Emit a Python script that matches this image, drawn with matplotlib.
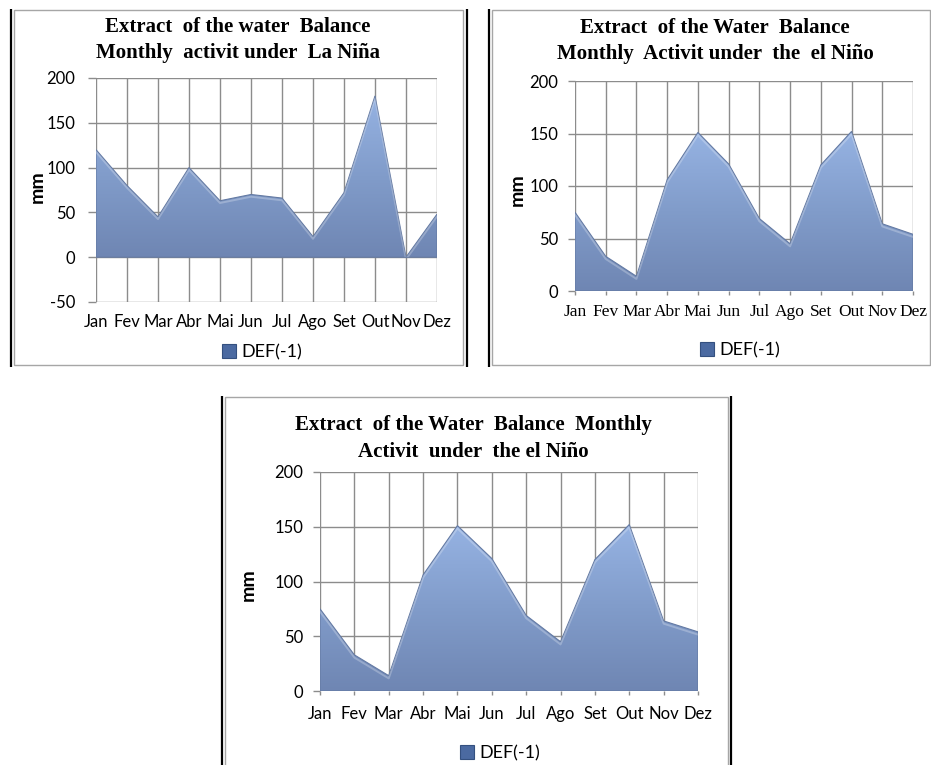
import matplotlib
matplotlib.use("Agg")
import matplotlib.pyplot as plt
import numpy as np
from matplotlib.patches import Polygon, Patch, Rectangle
from matplotlib.colors import LinearSegmentedColormap

# monthly DEF(-1) values, mm
months = ['Jan', 'Fev', 'Mar', 'Abr', 'Mai', 'Jun', 'Jul', 'Ago', 'Set', 'Out', 'Nov', 'Dez']
la_nina = [120, 80, 45, 100, 63, 70, 66, 23, 72, 180, 0, 48]
el_nino = [75, 33, 14, 106, 151, 121, 69, 45, 120, 152, 64, 54]
series_name = 'DEF(-1)'

W, H = 931, 765
SANS = ['Lato', 'DejaVu Sans']
SERIF = ['Liberation Serif', 'DejaVu Serif']
GRID = '#8c8c8c'

fill_cmap = LinearSegmentedColormap.from_list('area', ['#6f86b3', '#819cca', '#96b3e3'])

fig = plt.figure(figsize=(W / 100, H / 100), dpi=100)
fig.patch.set_facecolor('white')

# chart frames: thin grey border plus thick black table rule left and right
frame = fig.add_axes([0, 0, 1, 1])
frame.set_xlim(0, W)
frame.set_ylim(H, 0)
frame.axis('off')
for x0, y0, x1, y1 in [(13.5, 10, 463, 365), (492, 10, 929.5, 365), (224.5, 397, 728, 770)]:
    frame.add_patch(Rectangle((x0, y0), x1 - x0, y1 - y0, fill=False, ec='#a6a6a6', lw=1.0))
for x, y0, y1 in [(11, 9, 367), (467, 9, 367), (489, 9, 367), (221.5, 396, 770), (731, 396, 770)]:
    frame.plot([x, x], [y0, y1], color='black', lw=1.6, solid_capstyle='butt')


def add_axes_px(x0, y0, x1, y1):
    return fig.add_axes([x0 / W, 1 - y1 / H, (x1 - x0) / W, (y1 - y0) / H])


def fig_text(x, y, s, **kw):
    fig.text(x / W, 1 - y / H, s, ha='center', va='center', **kw)


def area_chart(ax, values, ymin, xfont, xsize, xpad, xtick_len, ypad, ytick_len):
    x = np.arange(len(values))

    # area shape with a vertical gradient clipped to it
    verts = [(0, 0)] + list(zip(x, values)) + [(x[-1], 0)]
    shape = Polygon(verts, closed=True, fc='none', ec='#647aa3', lw=0.8, zorder=3)
    ax.add_patch(shape)
    grad = np.linspace(0, 1, 256).reshape(-1, 1)
    im = ax.imshow(grad, cmap=fill_cmap, origin='lower', aspect='auto',
                   extent=[0, x[-1], 0, max(values)], zorder=2)
    im.set_clip_path(shape)
    # soft highlight along the top edge
    ax.plot(x, np.array(values) - 2.5, color='white', lw=1.4, alpha=0.25, zorder=3,
            clip_path=shape)
    ax.set_xlim(0, len(values) - 1)
    ax.set_ylim(ymin, 200)

    ax.set_axisbelow(True)
    ax.set_xticks(x)
    ax.set_xticklabels(months, fontfamily=xfont, fontsize=xsize)
    ax.set_yticks(np.arange(ymin, 201, 50))
    ax.set_yticklabels([str(v) for v in np.arange(ymin, 201, 50)], fontfamily=SANS, fontsize=12)
    ax.grid(True, color=GRID, lw=1.0)
    for s in ax.spines.values():
        s.set_visible(False)
    ax.tick_params(axis='y', length=ytick_len, width=1, color=GRID, pad=ypad)
    ax.tick_params(axis='x', length=xtick_len, width=1, color=GRID, pad=xpad)


def legend_at(x, y):
    fig.legend(handles=[Patch(fc='#4b6aa1', ec='#34507f', lw=0.8)], labels=[series_name],
               loc='center', bbox_to_anchor=(x / W, 1 - y / H), frameon=False,
               prop={'family': SANS, 'size': 13}, handlelength=0.8, handleheight=0.8,
               handletextpad=0.3, borderpad=0, borderaxespad=0)


def y_label(x, y):
    fig_text(x, y, 'mm', rotation=90, fontfamily=SANS, fontweight='bold', fontsize=14)


title_kw = dict(fontfamily=SERIF, fontweight='bold', fontsize=15)

# La Niña
ax1 = add_axes_px(96, 78, 437, 302)
area_chart(ax1, la_nina, -50, SANS, 12, 9, 0, 9, 6)
fig_text(238, 27, 'Extract  of the water  Balance', **title_kw)
fig_text(238, 53, 'Monthly  activit under  La Niña', **title_kw)
y_label(37, 187)
legend_at(262, 352)

# El Niño
ax2 = add_axes_px(575, 81, 913, 291)
area_chart(ax2, el_nino, 0, SERIF, 12.5, 6, 3, 7, 5)
fig_text(715, 28, 'Extract  of the Water  Balance', **title_kw)
fig_text(715, 54, 'Monthly  Activit under  the  el Niño', **title_kw)
y_label(517, 190)
legend_at(740, 350)

# El Niño, wider layout
ax3 = add_axes_px(320, 472, 698, 691)
area_chart(ax3, el_nino, 0, SANS, 12, 8, 3, 7, 5)
fig_text(473, 425, 'Extract  of the Water  Balance  Monthly', **title_kw)
fig_text(473, 452, 'Activit  under  the el Niño', **title_kw)
y_label(248, 585)
legend_at(500, 753)

fig.savefig('out.png', dpi=100)
